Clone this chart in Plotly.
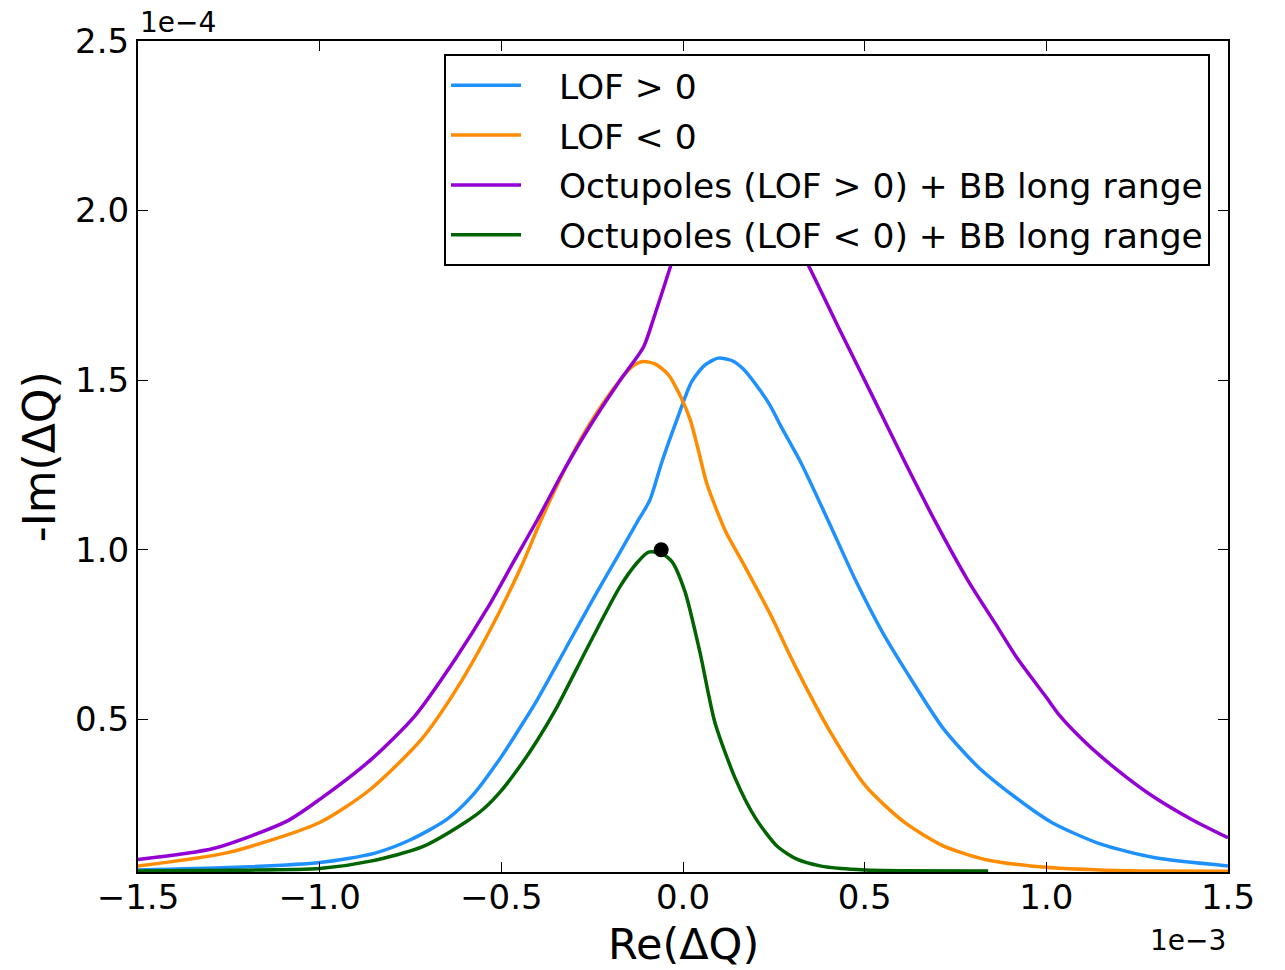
import plotly.graph_objects as go

# Re(dQ) in units of 1e-3, -Im(dQ) in units of 1e-4
lof_pos_re = [-1.5, -1.25, -1.0, -0.85, -0.75, -0.65, -0.58, -0.5, -0.44, -0.4, -0.33, -0.248,
              -0.183, -0.127, -0.091, -0.059, -0.017, 0.024, 0.061, 0.097, 0.134, 0.166, 0.2,
              0.24, 0.27, 0.325, 0.4, 0.475, 0.55, 0.615, 0.715, 0.81, 0.91, 1.015, 1.15, 1.3, 1.5]
lof_pos_im = [0.056, 0.063, 0.078, 0.105, 0.145, 0.205, 0.275, 0.39, 0.49, 0.56, 0.695, 0.854,
              0.975, 1.08, 1.147, 1.256, 1.383, 1.496, 1.545, 1.565, 1.558, 1.533, 1.488,
              1.425, 1.363, 1.256, 1.085, 0.91, 0.755, 0.64, 0.475, 0.362, 0.274, 0.196, 0.132,
              0.092, 0.068]

lof_neg_re = [-1.5, -1.25, -1.0, -0.86, -0.72, -0.63, -0.54, -0.445, -0.39, -0.31, -0.25, -0.18,
              -0.14, -0.11, -0.077, -0.04, -0.008, 0.02, 0.042, 0.065, 0.116, 0.165, 0.243,
              0.305, 0.407, 0.503, 0.61, 0.716, 0.831, 0.957, 1.15, 1.3, 1.5]
lof_neg_im = [0.068, 0.108, 0.196, 0.294, 0.441, 0.578, 0.745, 0.951, 1.089, 1.27, 1.383, 1.491,
              1.54, 1.555, 1.548, 1.516, 1.455, 1.383, 1.295, 1.197, 1.057, 0.961, 0.804,
              0.665, 0.46, 0.303, 0.196, 0.127, 0.087, 0.068, 0.056, 0.053, 0.052]

oct_pos_re = [-1.5, -1.29, -1.09, -1.0, -0.858, -0.739, -0.628, -0.537, -0.463, -0.4, -0.33,
              -0.256, -0.173, -0.109, -0.082, -0.036, 0.0, 0.1, 0.2, 0.3, 0.349, 0.426, 0.523,
              0.61, 0.696, 0.784, 0.861, 0.92, 1.0, 1.034, 1.1, 1.151, 1.22, 1.295, 1.4, 1.5]
oct_pos_im = [0.087, 0.12, 0.2, 0.264, 0.382, 0.509, 0.676, 0.83, 0.971, 1.09, 1.23,
              1.365, 1.5, 1.597, 1.678, 1.83, 1.95, 2.08, 2.06, 1.93, 1.83, 1.66, 1.45,
              1.26, 1.08, 0.91, 0.78, 0.68, 0.565, 0.515, 0.44, 0.39, 0.33, 0.272, 0.205, 0.151]

oct_neg_re = [-1.5, -1.25, -1.0, -0.86, -0.72, -0.6, -0.55, -0.5, -0.45, -0.4, -0.35, -0.256,
              -0.173, -0.127, -0.095, -0.06, -0.031, 0.005, 0.047, 0.088, 0.145, 0.2, 0.26,
              0.315, 0.377, 0.435, 0.5, 0.6, 0.84]
oct_neg_im = [0.053, 0.055, 0.06, 0.082, 0.123, 0.196, 0.235, 0.29, 0.36, 0.44, 0.53, 0.726,
              0.892, 0.961, 0.993, 0.99, 0.966, 0.878, 0.696, 0.49, 0.323, 0.208, 0.125,
              0.087, 0.068, 0.06, 0.056, 0.054, 0.053]

working_point_re = [-0.06]
working_point_im = [1.0]

x_ticks = [-1.5, -1.0, -0.5, 0.0, 0.5, 1.0, 1.5]
x_tick_text = ["\u22121.5", "\u22121.0", "\u22120.5", "0.0", "0.5", "1.0", "1.5"]
y_ticks = [0.5, 1.0, 1.5, 2.0, 2.5]
y_tick_text = ["0.5", "1.0", "1.5", "2.0", "2.5"]

series = [
    ("LOF > 0", lof_pos_re, lof_pos_im, "#1E90FF"),
    ("LOF < 0", lof_neg_re, lof_neg_im, "#FF8C00"),
    ("Octupoles (LOF > 0) + BB long range", oct_pos_re, oct_pos_im, "#9400D3"),
    ("Octupoles (LOF < 0) + BB long range", oct_neg_re, oct_neg_im, "#006400"),
]

FONT = "DejaVu Sans"
PAD = "\u00a0" * 3  # gap between legend line sample and label

fig = go.Figure()
for i, (name, xs, ys, col) in enumerate(series):
    fig.add_trace(go.Scatter(x=xs, y=ys, mode="lines", name=PAD + name, legendgroup=f"g{i}",
                             line=dict(color=col, width=3.5, shape="spline", smoothing=0.7)))

fig.add_trace(go.Scatter(x=working_point_re, y=working_point_im, mode="markers",
                         showlegend=False, marker=dict(color="black", size=15)))

axis_common = dict(showline=True, linecolor="black", linewidth=2, mirror="allticks",
                   ticks="inside", ticklen=10, tickwidth=1, tickcolor="black",
                   showgrid=False, zeroline=False,
                   tickfont=dict(family=FONT, size=34, color="black"))

fig.update_xaxes(range=[-1.5, 1.5], tickvals=x_ticks, ticktext=x_tick_text,
                 ticklabelstandoff=-6, **axis_common)
fig.update_yaxes(range=[0.05, 2.5], tickvals=y_ticks, ticktext=y_tick_text, **axis_common)

fig.update_layout(
    width=1285, height=970,
    margin=dict(l=138, r=57, t=41, b=98),
    plot_bgcolor="white", paper_bgcolor="white",
    font=dict(family=FONT, color="black"),
    legend=dict(x=0.9835, y=0.984, xanchor="right", yanchor="top",
                bgcolor="white", bordercolor="black", borderwidth=2,
                font=dict(family=FONT, size=34.5, color="black"),
                itemwidth=70, tracegroupgap=2),
    annotations=[
        dict(text="Re(\u0394Q)", xref="paper", yref="paper", x=0.5, y=-0.1179,
             xanchor="center", yanchor="bottom", showarrow=False, borderpad=0,
             font=dict(family=FONT, size=43)),
        dict(text="-Im(\u0394Q)", xref="paper", yref="paper", x=-0.065, y=0.5,
             xanchor="right", yanchor="middle", textangle=-90, showarrow=False,
             font=dict(family=FONT, size=44)),
        dict(text="1e\u22124", xref="paper", yref="paper", x=0.0, y=1.0,
             xanchor="left", yanchor="bottom", showarrow=False,
             font=dict(family=FONT, size=28)),
        dict(text="1e\u22123", xref="paper", yref="paper", x=1.0, y=-0.06,
             xanchor="right", yanchor="top", showarrow=False,
             font=dict(family=FONT, size=28)),
    ],
)

fig.write_html("out.html")
